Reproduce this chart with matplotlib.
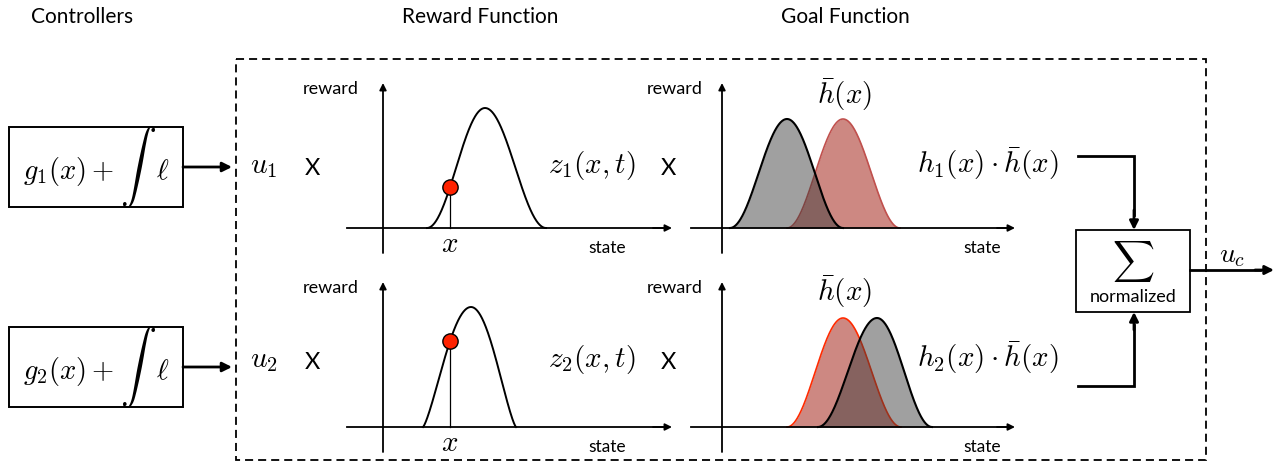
import numpy as np
import matplotlib
matplotlib.use('Agg')
import matplotlib.pyplot as plt
from matplotlib.patches import Rectangle

plt.rcParams['mathtext.fontset'] = 'cm'
plt.rcParams['lines.scale_dashes'] = False
SANS = ['Lato', 'DejaVu Sans']

# ---------------- data ----------------
section_titles = ['Controllers', 'Reward Function', 'Goal Function']
controller_terms = [r'$g_1(x) +$', r'$g_2(x) +$']
weight_labels = [r'$u_1$', r'$u_2$']
reward_labels = [r'$z_1(x,t)$', r'$z_2(x,t)$']
goal_labels = [r'$h_1(x)\cdot\bar{h}(x)$', r'$h_2(x)\cdot\bar{h}(x)$']
goal_ref_label = r'$\bar{h}(x)$'
axis_y_label = 'reward'
axis_x_label = 'state'
state_marker_label = r'$x$'
sum_label = 'normalized'
output_label = r'$u_c$'

# reward bumps per row: (start, peak, end, height, sharpness) in state units
reward_bumps = [(44, 102, 163, 120, 1.0),
                (40, 88, 133, 120, 0.65)]
current_state = [67, 67]
# goal bumps per row: own goal h_i and reference goal h_bar
goal_own = [(8, 65, 121, 109, 1.0),
            (96, 155, 210, 109, 1.0)]
goal_ref = [(65, 121, 178, 109, 1.0),
            (65, 121, 179, 109, 1.0)]

# ---------------- layout ----------------
W, H = 1278, 466
fig = plt.figure(figsize=(W / 100, H / 100), dpi=100)
ax = fig.add_axes([0, 0, 1, 1])
ax.set_xlim(0, W)
ax.set_ylim(H, 0)
ax.axis('off')

row_y = [228, 427]
reward_x0 = 383
goal_x0 = 722
row_base = [173, 367]


def bump(params, n=300):
    s, p, e, h, k = params
    xs = np.linspace(s, e, n)
    t = np.where(xs < p, (xs - p) / (p - s), (xs - p) / (e - p))
    ys = h * ((1 + np.cos(np.pi * t)) / 2) ** k
    return xs, ys


def arrow(x0, y0, x1, y1, lw=1.3, ms=10):
    ax.annotate('', xy=(x1, y1), xytext=(x0, y0),
                arrowprops=dict(arrowstyle='-|>', lw=lw, color='k',
                                mutation_scale=ms, shrinkA=0, shrinkB=0))


# titles
for txt, cx in zip(section_titles, [82, 480, 845]):
    ax.text(cx, 23, txt, ha='center', va='baseline', fontsize=15, family=SANS)

# dashed frame
ax.add_patch(Rectangle((236, 59), 1206 - 236, 460 - 59, fill=False, lw=1.3,
                       ls=(0, (5.8, 3.6)), ec='k'))

for i in range(2):
    oy = row_y[i]
    base = row_base[i]
    # controller box
    by = [127, 327][i]
    ax.add_patch(Rectangle((9, by), 174, 80, fill=False, lw=1.4, ec='k'))
    ax.text(23, by + 52, controller_terms[i], ha='left', va='baseline', fontsize=20.5)
    ax.text(138, by + 40, r'$\int$', ha='center', va='center', fontsize=26)
    ax.text(156, by + 52, r'$\ell$', ha='left', va='baseline', fontsize=20.5)
    arrow(183, by + 40, 232, by + 40, lw=2.0, ms=14)

    ax.text(264, base, weight_labels[i], ha='center', va='baseline', fontsize=21)
    ax.text(312, base + 2, 'X', ha='center', va='baseline', fontsize=17, family=SANS)
    ax.text(592, base, reward_labels[i], ha='center', va='baseline', fontsize=21)
    ax.text(668, base + 2, 'X', ha='center', va='baseline', fontsize=17, family=SANS)
    ax.text(988, base, goal_labels[i], ha='center', va='baseline', fontsize=21)

    # ---- reward panel ----
    ax.plot([reward_x0 - 36, reward_x0 + 280], [oy, oy], color='k', lw=1.3)
    arrow(reward_x0 + 270, oy, reward_x0 + 289, oy, lw=1.3, ms=10)
    arrow(reward_x0, oy + 25, reward_x0, oy - 145, lw=1.3, ms=10)
    xs, ys = bump(reward_bumps[i])
    ax.plot(reward_x0 + xs, oy - ys, color='k', lw=1.4)
    sx = current_state[i]
    sy = np.interp(sx, xs, ys)
    ax.plot([reward_x0 + sx, reward_x0 + sx], [oy, oy - sy], color='k', lw=0.9)
    ax.plot(reward_x0 + sx, oy - sy, 'o', ms=11, mfc='#ff2200', mec='k', mew=1.0, zorder=5)
    ax.text(reward_x0 + sx, oy + 24, state_marker_label, ha='center', va='baseline', fontsize=21)
    ax.text(331, oy - 134, axis_y_label, ha='center', va='baseline', fontsize=13, family=SANS)
    ax.text(607, oy + 25, axis_x_label, ha='center', va='baseline', fontsize=12.5, family=SANS)

    # ---- goal panel ----
    red_edge = ['#c0504d', '#ff2a00'][i]
    xr, yr = bump(goal_ref[i])
    ax.fill_between(goal_x0 + xr, oy - yr, oy, color='#cd8882', lw=0, zorder=2)
    ax.plot(goal_x0 + xr, oy - yr, color=red_edge, lw=1.2, zorder=2)
    xg, yg = bump(goal_own[i])
    ax.fill_between(goal_x0 + xg, oy - yg, oy, color='#393939', alpha=0.48, lw=0, zorder=3)
    ax.plot(goal_x0 + xg, oy - yg, color='k', lw=1.5, zorder=4)
    ax.plot([goal_x0 - 31, goal_x0 + 285], [oy, oy], color='k', lw=1.3, zorder=4)
    arrow(goal_x0 + 275, oy, goal_x0 + 293, oy, lw=1.3, ms=10)
    arrow(goal_x0, oy + 25, goal_x0, oy - 145, lw=1.3, ms=10)
    ax.text(845, [104, 301][i], goal_ref_label, ha='center', va='baseline', fontsize=21)
    ax.text(675, oy - 134, axis_y_label, ha='center', va='baseline', fontsize=13, family=SANS)
    ax.text(982, oy + 25, axis_x_label, ha='center', va='baseline', fontsize=12.5, family=SANS)

# connectors to sum box
ax.plot([1078, 1134, 1134], [156, 156, 215], color='k', lw=2.0, solid_joinstyle='miter')
arrow(1134, 210, 1134, 230, lw=2.0, ms=13)
ax.plot([1078, 1134, 1134], [386, 386, 325], color='k', lw=2.0, solid_joinstyle='miter')
arrow(1134, 330, 1134, 312, lw=2.0, ms=13)

# sum box
ax.add_patch(Rectangle((1076, 230), 114, 82, fill=False, lw=1.3, ec='k'))
ax.text(1133, 261, r'$\sum$', ha='center', va='center', fontsize=21)
ax.text(1133, 302, sum_label, ha='center', va='baseline', fontsize=13, family=SANS)

# output
ax.plot([1190, 1260], [270, 270], color='k', lw=2.0)
arrow(1255, 270, 1274, 270, lw=2.0, ms=13)
ax.text(1232, 262, output_label, ha='center', va='baseline', fontsize=20)

fig.savefig('out.png', dpi=100)
